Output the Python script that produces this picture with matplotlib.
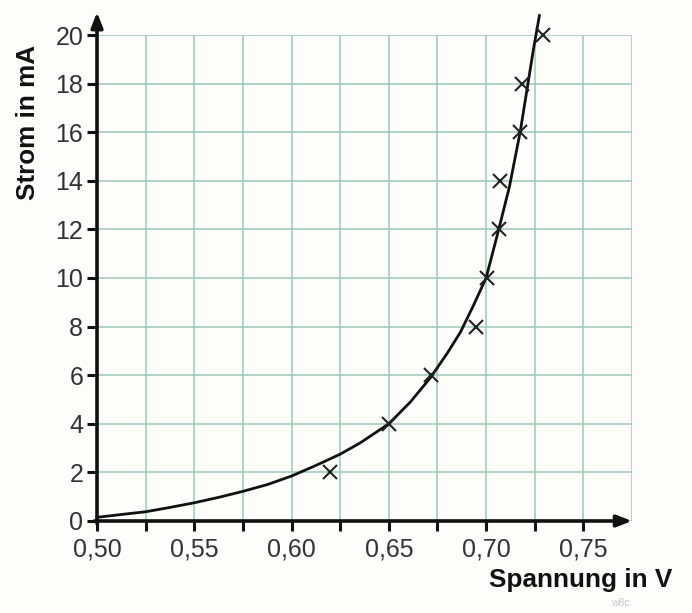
import matplotlib
matplotlib.use("Agg")
import matplotlib.pyplot as plt

# measured points (Spannung in V, Strom in mA)
u_meas = [0.620, 0.650, 0.6715, 0.695, 0.7005, 0.7065, 0.707, 0.7175, 0.7185, 0.729]
i_meas = [2, 4, 6, 8, 10, 12, 14, 16, 18, 20]

# hand-drawn characteristic curve
u_curve = [0.500, 0.5128, 0.525, 0.5376, 0.550, 0.5624, 0.575, 0.5876, 0.600,
           0.6129, 0.625, 0.6354, 0.650, 0.6611, 0.6714, 0.680, 0.6868, 0.6932,
           0.700, 0.7065, 0.712, 0.7175, 0.7214, 0.7243, 0.7274]
i_curve = [0.15, 0.27, 0.38, 0.56, 0.75, 0.97, 1.22, 1.50, 1.85,
           2.30, 2.75, 3.22, 4.0, 4.9, 5.9, 6.9, 7.77, 8.82,
           10.0, 12.0, 13.76, 16.0, 17.94, 19.4, 20.8]

x_ticks = [0.500, 0.525, 0.550, 0.575, 0.600, 0.625, 0.650, 0.675, 0.700, 0.725, 0.750]
x_labels = ["0,50", "", "0,55", "", "0,60", "", "0,65", "", "0,70", "", "0,75"]
y_ticks = [0, 2, 4, 6, 8, 10, 12, 14, 16, 18, 20]

plt.rcParams['font.family'] = ['Liberation Sans', 'DejaVu Sans']

fig = plt.figure(figsize=(6.92, 6.13), dpi=100)
fig.patch.set_facecolor('#fdfdfa')
ax = fig.add_axes([0.1402, 0.1501, 0.7731, 0.7928])
ax.set_facecolor('#fdfdfa')

grid_col = '#9cc8bd'
ax.set_xlim(0.500, 0.775)
ax.set_ylim(0, 20)
ax.set_xticks(x_ticks)
ax.set_xticklabels(x_labels)
ax.set_yticks(y_ticks)
ax.grid(True, color=grid_col, lw=1.1)
ax.axvline(0.775, color=grid_col, lw=1.1, zorder=0.5)
ax.set_axisbelow(True)

for s in ['top', 'right', 'left', 'bottom']:
    ax.spines[s].set_visible(False)

ax.tick_params(axis='both', which='major', length=7, width=2.2, color='#111111',
               labelsize=18, labelcolor='#333333', direction='out')
ax.tick_params(axis='x', pad=5)
ax.tick_params(axis='y', pad=3)

# axes with arrows
ax.annotate('', xy=(1.0, 0), xycoords='axes fraction', xytext=(-0.005, 0),
            arrowprops=dict(arrowstyle='-|>,head_length=0.9,head_width=0.35',
                            lw=2.6, color='#111111', shrinkA=0, shrinkB=0))
ax.annotate('', xy=(0, 1.047), xycoords='axes fraction', xytext=(0, -0.005),
            arrowprops=dict(arrowstyle='-|>,head_length=0.9,head_width=0.35',
                            lw=2.6, color='#111111', shrinkA=0, shrinkB=0))

ax.plot(u_curve, i_curve, color='#111111', lw=2.0, clip_on=False, zorder=3,
        solid_joinstyle='round')
ax.plot(u_meas, i_meas, linestyle='none', marker='x', markersize=10,
        markeredgewidth=1.5, color='#222222', clip_on=False, zorder=4)

fig.text(0.041, 0.80, 'Strom in mA', rotation=90, ha='center', va='center',
         fontsize=18.8, fontweight='bold', color='#111111')
fig.text(0.972, 0.054, 'Spannung in V', ha='right', va='center',
         fontsize=18.8, fontweight='bold', color='#111111')
fig.text(0.896, 0.008, 'w8c', ha='center', va='bottom', fontsize=7.5, color='#c8c8c8')

fig.savefig('out.png', dpi=100, facecolor=fig.get_facecolor())
